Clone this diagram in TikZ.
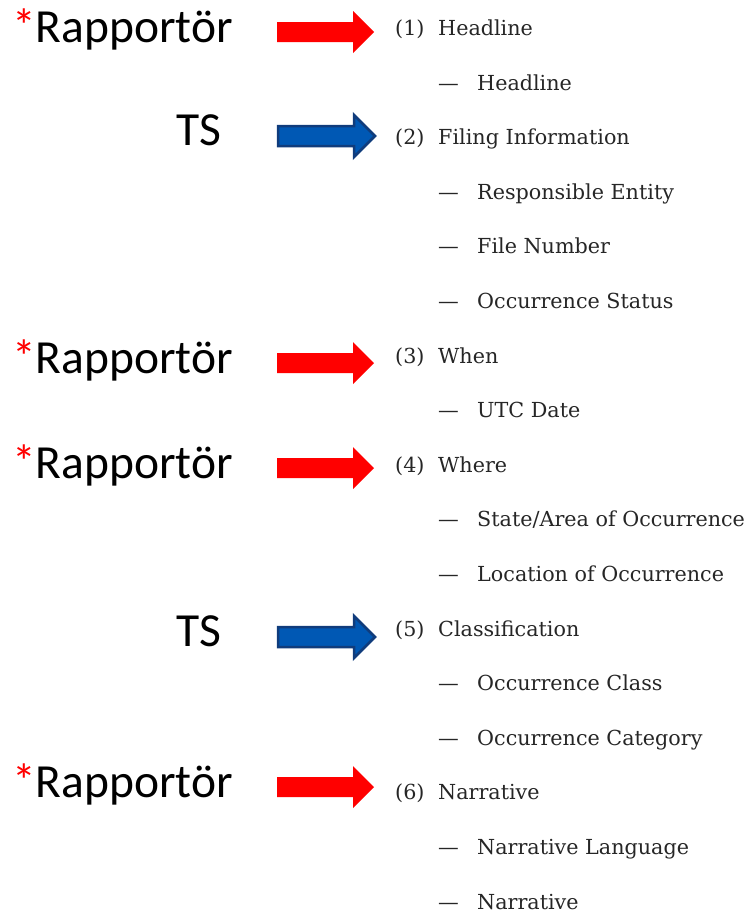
\documentclass[tikz,border=0pt]{standalone}
\usepackage{fontspec}
\setmainfont{DejaVu Serif}
\newfontfamily\labelfont{Carlito}

\definecolor{rapred}{RGB}{255,0,0}
\definecolor{tsblue}{RGB}{0,88,180}
\definecolor{tsedge}{RGB}{16,60,124}

\tikzset{
  who/.style={anchor=base west, inner sep=0pt, font=\labelfont\fontsize{47.5}{52}\selectfont},
  item/.style={anchor=base west, inner sep=0pt, text=black!85, font=\fontsize{20.7}{24}\selectfont},
  pics/fatarrow/.style={code={
    \path[pic actions] (0,-10) -- (76,-10) -- (76,-21) -- (97,0) -- (76,21) -- (76,10) -- (0,10) -- cycle;
    \coordinate (-tip) at (97,0);}},
  rapfat/.style={fill=rapred},
  tsfat/.style={fill=tsblue, draw=tsedge, line width=2.5pt, line join=miter}
}

\begin{document}
\begin{tikzpicture}[x=1pt,y=-1pt]
\useasboundingbox (0,0) rectangle (751,913);

% who fills which section
\foreach \yb [count=\i] in {42,373,478,797}{
  \node[who] (rap\i) at (12,\yb) {\textcolor{rapred}{*}Rapportör};
  \pic[rapfat] (rapa\i) at (277,\yb-10) {fatarrow};
}
\foreach \yb [count=\i] in {145,646}{
  \node[who] (ts\i) at (176,\yb) {TS};
  \pic[tsfat] (tsa\i) at (278,\yb-9) {fatarrow};
}

% numbered sections
\foreach \k/\n/\txt in {1/1/Headline, 3/2/Filing Information, 7/3/When, 9/4/Where,
    12/5/Classification, 15/6/Narrative}{
  \pgfmathsetmacro\yb{35.5+54.6*(\k-1)}
  \node[item] (num\n) at (395,\yb) {(\n)};
  \node[item] (sec\n) at (438,\yb) {\txt};
}

% fields under each section
\foreach \k/\txt in {2/Headline, 4/Responsible Entity, 5/File Number, 6/Occurrence Status,
    8/UTC Date, 10/{State/Area of Occurrence}, 11/Location of Occurrence,
    13/Occurrence Class, 14/Occurrence Category, 16/Narrative Language, 17/Narrative}{
  \pgfmathsetmacro\yb{35.5+54.6*(\k-1)}
  \node[item] (dash\k) at (438,\yb) {—};
  \node[item] (fld\k) at (477,\yb) {\txt};
}
\end{tikzpicture}
\end{document}
